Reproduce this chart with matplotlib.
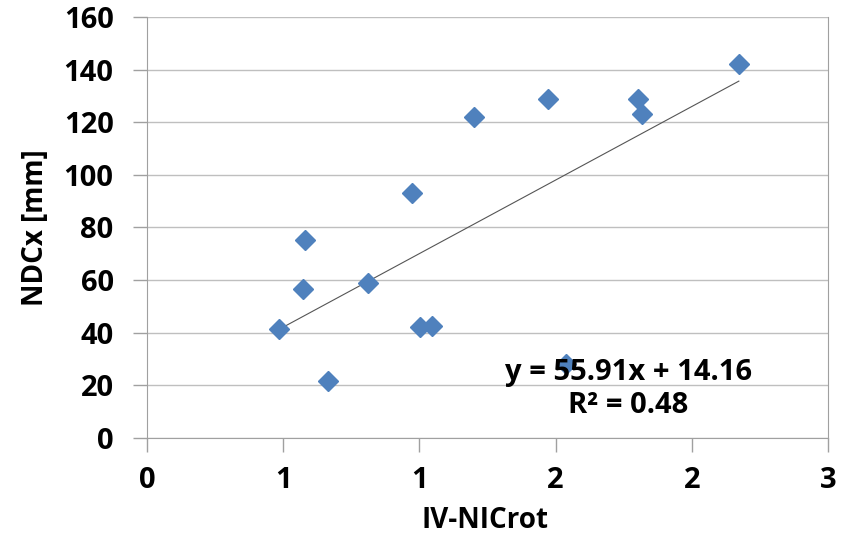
import matplotlib.pyplot as plt
import numpy as np

plt.rcParams['font.family'] = ['Open Sans', 'DejaVu Sans']

# data
iv_nicrot = [0.485, 0.574, 0.581, 0.665, 0.8125, 0.974, 1.004, 1.048,
             1.202, 1.474, 1.537, 1.801, 1.816, 2.173]
ndcx = [41.4, 56.6, 75.3, 21.7, 58.9, 93.1, 42.2, 42.6,
        122.0, 128.8, 28.1, 128.8, 123.1, 142.1]
slope = 55.91
intercept = 14.16
r2 = 0.48
x_ticks = [0, 0.5, 1.0, 1.5, 2.0, 2.5]
x_tick_labels = ['0', '1', '1', '2', '2', '3']
y_ticks = [0, 20, 40, 60, 80, 100, 120, 140, 160]

fig = plt.figure(figsize=(8.5, 5.34), dpi=100)
ax = fig.add_axes([0.173, 0.180, 0.801, 0.788])

for y in y_ticks:
    ax.axhline(y, color='#bfbfbf', lw=1, zorder=0)

# linear trendline over the data range
xs = np.array([min(iv_nicrot), max(iv_nicrot)])
ax.plot(xs, slope * xs + intercept, color='#555555', lw=0.8, zorder=2)
ax.plot(iv_nicrot, ndcx, linestyle='none', marker='D', markersize=10,
        color='#4f81bd', markeredgecolor='#4f81bd', zorder=3)

ax.set_xlim(0, 2.5)
ax.set_ylim(0, 160)
ax.set_xticks(x_ticks)
ax.set_xticklabels(x_tick_labels)
ax.set_yticks(y_ticks)

for s in ax.spines.values():
    s.set_color('#a0a0a0')
ax.spines['top'].set_visible(False)
ax.tick_params(axis='both', colors='#a0a0a0', labelcolor='black',
               labelsize=21, length=10, width=1)
ax.tick_params(axis='x', pad=10)
ax.tick_params(axis='y', pad=14)
for lab in ax.get_xticklabels() + ax.get_yticklabels():
    lab.set_fontweight('bold')

ax.set_xlabel('IV-NICrot', fontsize=20, fontweight='bold')
ax.set_ylabel('NDCx [mm]', fontsize=20, fontweight='bold')
ax.xaxis.set_label_coords(0.496, -0.197)
ax.yaxis.set_label_coords(-0.164, 0.5)
ax.xaxis.label.set_va('center')
ax.yaxis.label.set_va('center')

ax.text(1.768, 18.6, 'y = %.2fx + %.2f\nR² = %.2f' % (slope, intercept, r2),
        ha='center', va='center', fontsize=21, fontweight='bold',
        linespacing=1.2, zorder=4)

fig.savefig('out.png', dpi=100)
